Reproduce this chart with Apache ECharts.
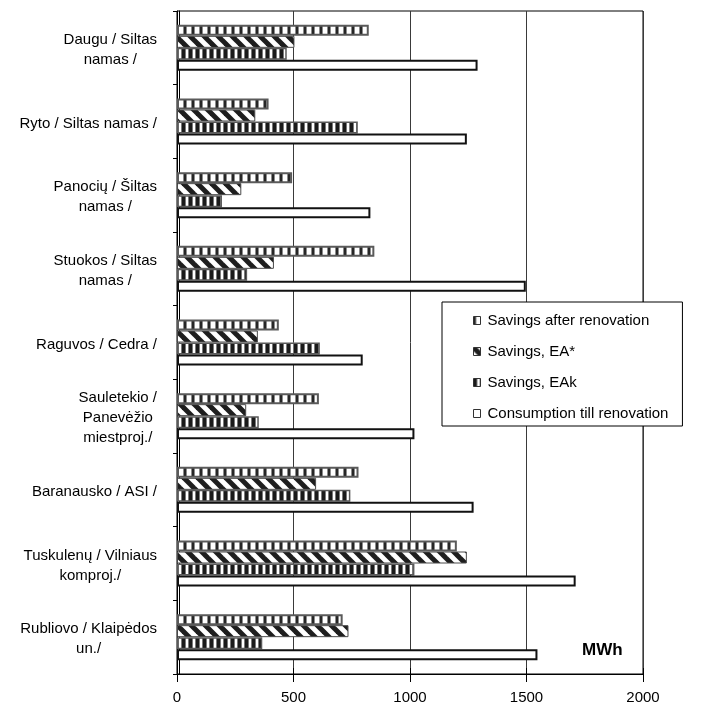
<!DOCTYPE html>
<html>
<head>
<meta charset="utf-8">
<script src="https://cdn.jsdelivr.net/npm/echarts@6/dist/echarts.min.js"></script>
<style>
  html, body { margin: 0; padding: 0; background: #fff; }
  #chart { width: 712px; height: 710px; }
</style>
</head>
<body>
<div id="chart"></div>
<script>
// Objects, listed from top to bottom
const categories = [
  'Daugu / Siltas\nnamas /',
  'Ryto / Siltas namas /',
  'Panocių / Šiltas\nnamas /',
  'Stuokos / Siltas\nnamas /',
  'Raguvos / Cedra /',
  'Sauletekio /\nPanevėžio\nmiestproj./',
  'Baranausko / ASI /',
  'Tuskulenų / Vilniaus\nkomproj./',
  'Rubliovo / Klaipėdos\nun./'
];

// MWh
const savingsAfterRenovation = [823, 393, 494, 847, 437, 609, 779, 1201, 711];
const savingsEA = [504, 336, 276, 416, 347, 297, 597, 1244, 736];
const savingsEAk = [471, 776, 193, 301, 613, 351, 744, 1019, 366];
const consumptionTillRenovation = [1290, 1244, 830, 1497, 797, 1019, 1273, 1711, 1547];

const seriesNames = [
  'Savings after renovation',
  'Savings, EA*',
  'Savings, EAk',
  'Consumption till renovation'
];

const xTicks = [0, 500, 1000, 1500, 2000];

const FONT = '"Liberation Sans", Arial, sans-serif';

// Hatch fills drawn on small canvases and tiled over the bars
function tile(w, h, draw) {
  const c = document.createElement('canvas');
  c.width = w; c.height = h;
  const g = c.getContext('2d');
  g.fillStyle = '#fff';
  g.fillRect(0, 0, w, h);
  draw(g, w, h);
  return { image: c, repeat: 'repeat' };
}

// ladder: dark rungs between white cells
const ladderFill = tile(8, 4, (g, w, h) => {
  g.fillStyle = '#262626'; g.fillRect(0, 0, 2, h);
  g.fillStyle = '#8c8c8c'; g.fillRect(2, 0, 1, h); g.fillRect(7, 0, 1, h);
});

// wide downward diagonal
const diagonalFill = tile(14, 14, (g, w, h) => {
  g.strokeStyle = '#1e1e1e';
  g.lineWidth = 5;
  g.lineCap = 'square';
  for (let k = -1; k <= 1; k++) {
    g.beginPath();
    g.moveTo(k * w - 2, -2);
    g.lineTo(k * w + w + 2, h + 2);
    g.stroke();
  }
});

// dark vertical stripes
const verticalFill = tile(7, 4, (g, w, h) => {
  g.fillStyle = '#1a1a1a'; g.fillRect(0, 0, 3, h);
  g.fillStyle = '#7a7a7a'; g.fillRect(3, 0, 1, h); g.fillRect(6, 0, 1, h);
});

const chart = echarts.init(document.getElementById('chart'), null, { renderer: 'canvas' });

function barSeries(name, data, fill, border, bw, width) {
  return {
    name: name,
    type: 'bar',
    data: data,
    barWidth: width,
    barGap: '0%',
    itemStyle: { color: fill, borderColor: border, borderWidth: bw },
    emphasis: { disabled: true },
    animation: false
  };
}

const option = {
  backgroundColor: '#fff',
  textStyle: { fontFamily: FONT },
  title: {
    text: 'MWh',
    left: 582,
    top: 642,
    padding: 0,
    textStyle: { fontFamily: FONT, fontSize: 17, fontWeight: 'bold', color: '#000' }
  },
  grid: {
    left: 177,
    right: 69,
    top: 11,
    bottom: 36,
    show: true,
    borderColor: '#000',
    borderWidth: 1,
    backgroundColor: 'transparent'
  },
  legend: {
    orient: 'vertical',
    left: 442,
    top: 302,
    z: 10,
    backgroundColor: '#fff',
    borderColor: '#000',
    borderWidth: 1,
    padding: [11, 14, 5, 31],
    itemWidth: 7,
    itemHeight: 8,
    itemGap: 16,
    selectedMode: false,
    icon: 'rect',
    itemStyle: { borderWidth: 1, borderColor: '#333' },
    textStyle: { fontFamily: FONT, fontSize: 15, color: '#000', padding: [0, 0, 0, 2] },
    data: seriesNames
  },
  xAxis: [
    {
      type: 'value',
      min: xTicks[0],
      max: xTicks[xTicks.length - 1],
      interval: 500,
      axisLine: { show: true, lineStyle: { color: '#000', width: 1 } },
      axisTick: { show: true, inside: false, length: 8, lineStyle: { color: '#000' } },
      axisLabel: {
        fontFamily: FONT, fontSize: 15, color: '#000', margin: 16,
        formatter: v => String(v)
      },
      splitLine: { show: true, lineStyle: { color: '#3a3a3a', width: 1 } }
    },
    {
      type: 'value',
      position: 'bottom',
      min: xTicks[0],
      max: xTicks[xTicks.length - 1],
      interval: 500,
      axisLine: { show: false },
      axisTick: { show: true, inside: true, length: 6, lineStyle: { color: '#000' } },
      axisLabel: { show: false },
      splitLine: { show: false }
    }
  ],
  yAxis: [
    {
      type: 'category',
      inverse: true,
      data: categories,
      axisLine: { show: true, lineStyle: { color: '#000', width: 1 } },
      axisTick: { show: true, length: 4, lineStyle: { color: '#000' } },
      axisLabel: {
        margin: 20,
        color: '#000',
        formatter: function (v) {
          return v.split('\n').map(s => '{c|' + s + '}').join('\n');
        },
        rich: {
          c: { align: 'center', fontFamily: FONT, fontSize: 15, color: '#000', lineHeight: 20, padding: [4, 0, 0, 0] }
        }
      },
      splitLine: { show: false }
    },
    {
      type: 'category',
      inverse: true,
      position: 'right',
      offset: -2.5,
      data: categories,
      axisLine: { show: true, lineStyle: { color: '#000', width: 1 } },
      axisTick: { show: false },
      axisLabel: { show: false },
      splitLine: { show: false }
    }
  ],
  series: [
    barSeries(seriesNames[0], savingsAfterRenovation, ladderFill, '#5a5a5a', 2, 11),
    barSeries(seriesNames[1], savingsEA, diagonalFill, '#4a4a4a', 1, 12),
    barSeries(seriesNames[2], savingsEAk, verticalFill, '#5a5a5a', 1.5, 12),
    barSeries(seriesNames[3], consumptionTillRenovation, '#ffffff', '#111111', 2, 11)
  ]
};

chart.setOption(option);
</script>
</body>
</html>
